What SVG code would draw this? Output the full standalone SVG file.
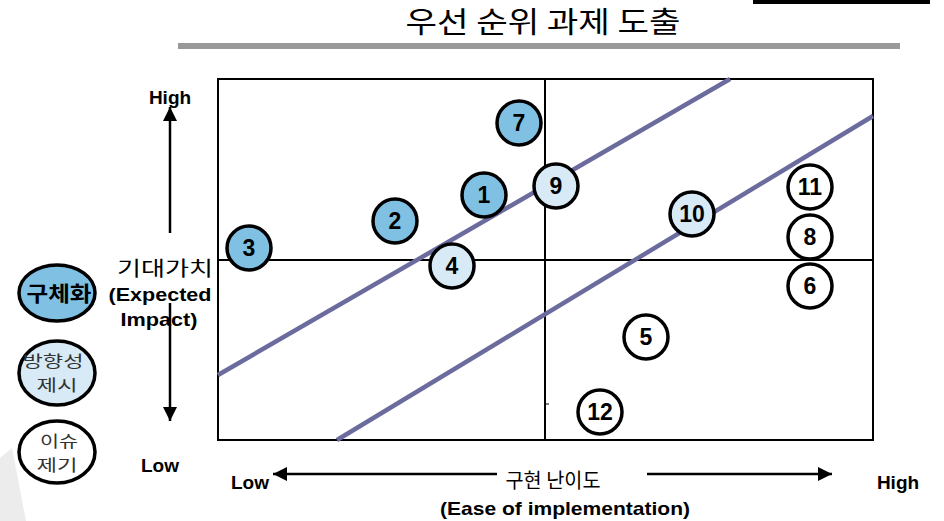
<svg xmlns="http://www.w3.org/2000/svg" width="944" height="521" viewBox="0 0 944 521">
<style>
.num{font-family:"Liberation Sans",Arial,sans-serif;font-weight:bold;font-size:23px;text-anchor:middle;fill:#000}
.c{stroke:#000;stroke-width:3.5}
.dk{fill:#7fc0e3}
.lt{fill:#d7eaf6}
.wh{fill:#fff}
.lbl{font-family:"Liberation Sans",Arial,sans-serif;font-size:19px;text-anchor:middle;fill:#000}
.b{font-weight:bold}
.kr{font-family:"Noto Sans CJK KR","Liberation Sans",sans-serif;text-anchor:middle}
.diag{stroke:#6b6b9e;stroke-width:4.5;fill:none}
.ax{stroke:#000;stroke-width:2.5;fill:none}
</style>
<defs>
<marker id="ah" viewBox="0 0 10 10" refX="10" refY="5" markerWidth="14" markerHeight="14" orient="auto-start-reverse" markerUnits="userSpaceOnUse">
<path d="M0,0 L10,5 L0,10 z" fill="#000"/>
</marker>
</defs>
<rect width="944" height="521" fill="#fff"/>
<polygon points="0,458 12,448 26,521 0,521" fill="#ececec"/>
<rect x="753" y="0" width="177" height="4" fill="#000"/>
<text x="543" y="33" class="kr" font-size="29" fill="#000" textLength="275" lengthAdjust="spacingAndGlyphs">우선 순위 과제 도출</text>
<rect x="178" y="43" width="722" height="6" fill="#999"/>

<g id="plot">
<rect x="218" y="79" width="655" height="361" fill="none" stroke="#000" stroke-width="2"/>
<line x1="545" y1="79" x2="545" y2="440" stroke="#000" stroke-width="2"/>
<line x1="218" y1="260" x2="873" y2="260" stroke="#000" stroke-width="2"/>
<line x1="545" y1="404" x2="549" y2="404" stroke="#000" stroke-width="1"/>
</g>
<g id="connectors">
<line class="diag" x1="218" y1="375" x2="730" y2="79"/>
<line class="diag" x1="337" y1="440" x2="873" y2="116"/>
<line class="ax" x1="170" y1="233" x2="170" y2="107" marker-end="url(#ah)"/>
<line class="ax" x1="170" y1="303" x2="170" y2="421" marker-end="url(#ah)"/>
<line class="ax" x1="497" y1="474" x2="273" y2="474" marker-end="url(#ah)"/>
<line class="ax" x1="647" y1="474" x2="832" y2="474" marker-end="url(#ah)"/>
</g>

<g id="n7"><circle class="c dk" cx="519" cy="123" r="22"/><text class="num" x="519" y="131">7</text></g>
<g id="n1"><circle class="c dk" cx="484" cy="195" r="22"/><text class="num" x="484" y="203">1</text></g>
<g id="n9"><circle class="c lt" cx="556" cy="186" r="22"/><text class="num" x="556" y="194">9</text></g>
<g id="n2"><circle class="c dk" cx="395" cy="221" r="22"/><text class="num" x="395" y="229">2</text></g>
<g id="n3"><circle class="c dk" cx="249" cy="248" r="22"/><text class="num" x="249" y="256">3</text></g>
<g id="n4"><circle class="c lt" cx="452" cy="266" r="22"/><text class="num" x="452" y="274">4</text></g>
<g id="n10"><circle class="c lt" cx="692" cy="214" r="22"/><text class="num" x="692" y="222">10</text></g>
<g id="n11"><circle class="c wh" cx="810" cy="187" r="22"/><text class="num" x="810" y="195">11</text></g>
<g id="n8"><circle class="c wh" cx="810" cy="237" r="22"/><text class="num" x="810" y="245">8</text></g>
<g id="n6"><circle class="c wh" cx="810" cy="286" r="22"/><text class="num" x="810" y="294">6</text></g>
<g id="n5"><circle class="c wh" cx="646" cy="337" r="22"/><text class="num" x="646" y="345">5</text></g>
<g id="n12"><circle class="c wh" cx="600" cy="412" r="22"/><text class="num" x="600" y="420">12</text></g>

<g id="legend-concrete"><ellipse class="c dk" cx="57" cy="293" rx="38" ry="28"/><text class="kr" x="59" y="301" font-size="21" font-weight="bold" fill="#000" textLength="65" lengthAdjust="spacingAndGlyphs">구체화</text></g>
<g id="legend-direction"><ellipse class="c lt" cx="57" cy="373" rx="38" ry="32"/><text class="kr" x="53" y="367" font-size="16" fill="#333" textLength="61" lengthAdjust="spacingAndGlyphs">방향성</text><text class="kr" x="57" y="391" font-size="16" fill="#333" textLength="41" lengthAdjust="spacingAndGlyphs">제시</text></g>
<g id="legend-issue"><ellipse class="c wh" cx="57" cy="452" rx="38" ry="31"/><text class="kr" x="59" y="447" font-size="16" fill="#333" textLength="38" lengthAdjust="spacingAndGlyphs">이슈</text><text class="kr" x="57" y="471" font-size="16" fill="#333" textLength="41" lengthAdjust="spacingAndGlyphs">제기</text></g>

<g id="yaxis-labels">
<text class="lbl b" x="170" y="104">High</text>
<text class="kr" x="165" y="276" font-size="20" fill="#000" textLength="96" lengthAdjust="spacingAndGlyphs">기대가치</text>
<text class="lbl b" x="160" y="301" textLength="103" lengthAdjust="spacingAndGlyphs">(Expected</text>
<text class="lbl b" x="159" y="326" textLength="77" lengthAdjust="spacingAndGlyphs">Impact)</text>
<text class="lbl b" x="160" y="472">Low</text>
</g>
<g id="xaxis-labels">
<text class="lbl b" x="250" y="489">Low</text>
<text class="kr" x="553" y="488" font-size="20" fill="#000" textLength="95" lengthAdjust="spacingAndGlyphs">구현 난이도</text>
<text class="lbl b" x="565" y="515" textLength="250" lengthAdjust="spacingAndGlyphs">(Ease of implementation)</text>
<text class="lbl b" x="898" y="489">High</text>
</g>
</svg>
